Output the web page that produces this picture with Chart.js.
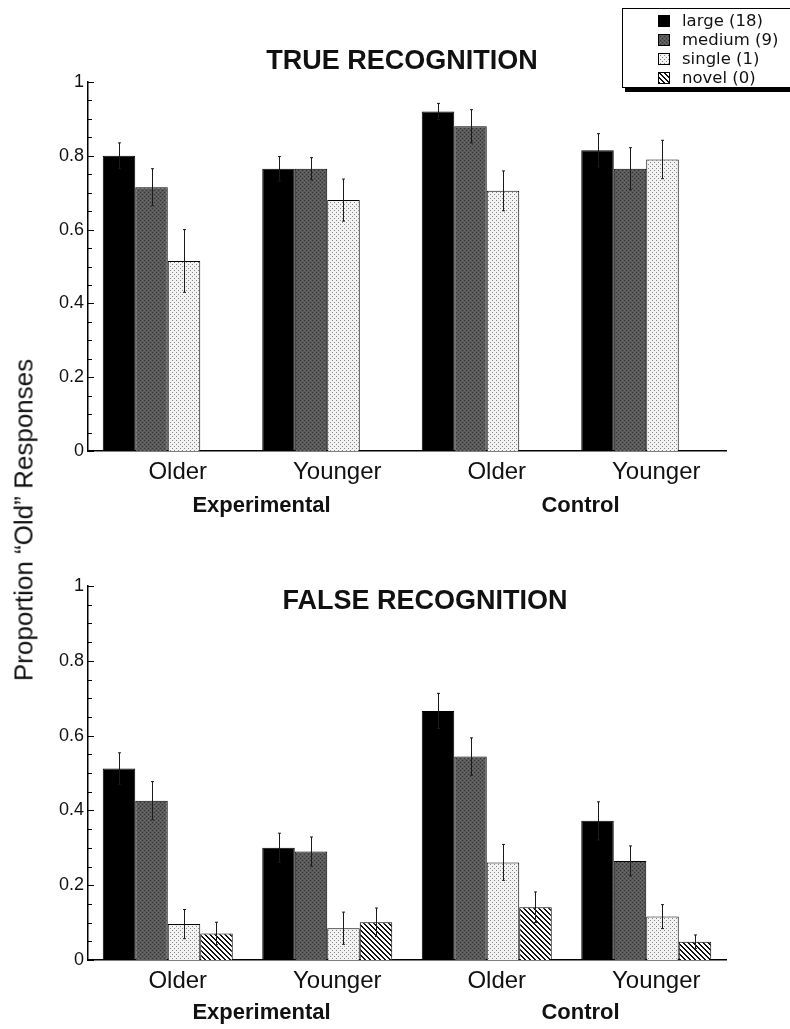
<!DOCTYPE html>
<html>
<head>
<meta charset="utf-8">
<script src="https://cdn.jsdelivr.net/npm/chart.js@4.4.0/dist/chart.umd.min.js"></script>
<style>
  html, body { margin: 0; padding: 0; background: #fff; }
  body { width: 790px; height: 1029px; position: relative; overflow: hidden;
         font-family: 'Liberation Sans', Arial, Helvetica, sans-serif; }
  canvas.panel { position: absolute; left: 0; }
  #topChart { top: 0; }
  #bottomChart { top: 530px; }
  #yTitle { position: absolute; left: 24px; top: 520px; transform: translate(-50%, -50%) rotate(-90deg);
            white-space: nowrap; font-size: 26px; color: #111; }
  #legend { position: absolute; left: 622px; top: 8px; width: 220px; height: 76px; padding-top: 2px;
            border: 1px solid #000; box-shadow: 3px 4px 0 #000; background: #fff;
            font-family: 'DejaVu Sans', Verdana, sans-serif; font-size: 16.5px; color: #111; }
  .row { height: 19px; display: flex; align-items: center; padding-left: 35px; }
  .row canvas { width: 12px; height: 12px; margin-right: 12px; }
</style>
</head>
<body>
<canvas id="topChart" class="panel" width="790" height="530"></canvas>
<canvas id="bottomChart" class="panel" width="790" height="499"></canvas>
<div id="yTitle">Proportion “Old” Responses</div>
<div id="legend"></div>

<script>
// categories and group labels
const categories = ['Older', 'Younger', 'Older', 'Younger'];
const groupLabels = ['Experimental', 'Control'];
const seriesNames = ['large (18)', 'medium (9)', 'single (1)', 'novel (0)'];

// TRUE RECOGNITION (no novel items)
const trueLarge = [0.80, 0.765, 0.92, 0.815];
const trueMedium = [0.715, 0.765, 0.88, 0.765];
const trueSingle = [0.515, 0.68, 0.705, 0.79];
const trueNovel = [null, null, null, null];
const trueLargeErr = [0.035, 0.033, 0.022, 0.045];
const trueMediumErr = [0.05, 0.03, 0.045, 0.057];
const trueSingleErr = [0.085, 0.057, 0.054, 0.052];
const trueNovelErr = [0, 0, 0, 0];

// FALSE RECOGNITION
const falseLarge = [0.512, 0.30, 0.666, 0.372];
const falseMedium = [0.426, 0.29, 0.544, 0.265];
const falseSingle = [0.096, 0.085, 0.261, 0.116];
const falseNovel = [0.071, 0.101, 0.141, 0.049];
const falseLargeErr = [0.042, 0.039, 0.047, 0.051];
const falseMediumErr = [0.051, 0.039, 0.05, 0.04];
const falseSingleErr = [0.039, 0.043, 0.048, 0.032];
const falseNovelErr = [0.03, 0.038, 0.041, 0.018];

const FONT = "'Liberation Sans', Arial, Helvetica, sans-serif";

// Fill patterns for the bars
function makePattern(size, draw) {
    const c = document.createElement('canvas');
    c.width = c.height = size;
    const g = c.getContext('2d');
    draw(g, size);
    return g.createPattern(c, 'repeat');
}

const fills = [
    '#000',
    makePattern(4, (g) => {
        g.fillStyle = '#5a5a5a'; g.fillRect(0, 0, 4, 4);
        g.fillStyle = '#333'; g.fillRect(0, 0, 1, 1); g.fillRect(2, 2, 1, 1);
        g.fillStyle = '#6e6e6e'; g.fillRect(2, 0, 1, 1); g.fillRect(0, 2, 1, 1);
    }),
    makePattern(4, (g) => {
        g.fillStyle = '#f3f3f3'; g.fillRect(0, 0, 4, 4);
        g.fillStyle = '#858585'; g.fillRect(0, 0, 1, 1); g.fillRect(2, 2, 1, 1);
    }),
    makePattern(5, (g) => {
        g.fillStyle = '#fff'; g.fillRect(0, 0, 5, 5);
        g.fillStyle = '#111';
        for (let i = 0; i < 5; i++) { g.fillRect(i, i, 1, 1); g.fillRect((i + 1) % 5, i, 1, 1); }
    })
];

// Error bars drawn from each dataset's "errors" array
const errorBars = {
    id: 'errorBars',
    afterDatasetsDraw(chart) {
        const ctx = chart.ctx;
        const yScale = chart.scales.y;
        ctx.save();
        ctx.strokeStyle = '#1a1a1a';
        ctx.lineWidth = 1;
        chart.data.datasets.forEach((ds, i) => {
            const meta = chart.getDatasetMeta(i);
            meta.data.forEach((bar, j) => {
                const v = ds.data[j];
                const e = ds.errors[j];
                if (v === null || !e) return;
                const x = Math.round(bar.x) + 0.5;
                const yTop = yScale.getPixelForValue(v + e);
                const yBot = yScale.getPixelForValue(v - e);
                ctx.beginPath();
                ctx.moveTo(x, yTop); ctx.lineTo(x, yBot);
                ctx.moveTo(x - 1.5, yTop); ctx.lineTo(x + 1.5, yTop);
                ctx.moveTo(x - 1.5, yBot); ctx.lineTo(x + 1.5, yBot);
                ctx.stroke();
            });
        });
        ctx.restore();
    }
};

// Inward tick marks on the y axis (major every 0.2, minor every 0.05)
const yInnerTicks = {
    id: 'yInnerTicks',
    afterDraw(chart) {
        const ctx = chart.ctx;
        const y = chart.scales.y;
        const x0 = chart.chartArea.left;
        ctx.save();
        ctx.strokeStyle = '#000';
        ctx.lineWidth = 1;
        for (let k = 0; k <= 20; k++) {
            const py = Math.round(y.getPixelForValue(k * 0.05)) + 0.5;
            const len = k % 4 === 0 ? 6 : 4;
            ctx.beginPath();
            ctx.moveTo(x0, py); ctx.lineTo(x0 + len, py);
            ctx.stroke();
        }
        ctx.restore();
    }
};

const panelTitle = {
    id: 'panelTitle',
    afterDraw(chart, args, opts) {
        const ctx = chart.ctx;
        ctx.save();
        ctx.font = 'bold 27px ' + FONT;
        ctx.fillStyle = '#111';
        ctx.textAlign = 'center';
        ctx.textBaseline = 'middle';
        ctx.fillText(opts.text, opts.x, opts.y);
        ctx.restore();
    }
};

function buildDatasets(values, errors) {
    return values.map((data, i) => ({
        label: seriesNames[i],
        data: data,
        errors: errors[i],
        backgroundColor: fills[i],
        borderColor: '#000',
        borderWidth: 1,
        barPercentage: 1,
        categoryPercentage: 0.815
    }));
}

function buildOptions(title, titleX, titleY, padTop, groupHeight, groupPad) {
    return {
        responsive: false,
        animation: false,
        layout: { padding: { left: 48, right: 64, top: padTop, bottom: 0 } },
        plugins: {
            legend: { display: false },
            tooltip: { enabled: false },
            panelTitle: { text: title, x: titleX, y: titleY }
        },
        scales: {
            x: {
                type: 'category',
                weight: 0,
                grid: { display: false, drawTicks: false },
                border: { display: true, color: '#000', width: 1.5 },
                ticks: { font: { family: FONT, size: 24 }, color: '#111', padding: 7,
                         labelOffset: 10, maxRotation: 0, autoSkip: false },
                afterFit(s) { s.height = 38; }
            },
            x2: {
                type: 'category',
                labels: groupLabels,
                offset: true,
                position: 'bottom',
                weight: 1,
                grid: { display: false, drawTicks: false },
                border: { display: false },
                ticks: { font: { family: FONT, size: 22, weight: 'bold' }, color: '#111',
                         padding: groupPad, labelOffset: 14, maxRotation: 0 },
                afterFit(s) { s.height = groupHeight; }
            },
            y: {
                min: 0,
                max: 1,
                grid: { display: false, drawTicks: false },
                border: { display: true, color: '#000', width: 1.5 },
                ticks: { stepSize: 0.2, font: { family: FONT, size: 18 }, color: '#111', padding: 4,
                         callback: (v) => String(Number(v.toFixed(2))) },
                afterFit(s) { s.width = 40; }
            }
        }
    };
}

new Chart(document.getElementById('topChart'), {
    type: 'bar',
    data: {
        labels: categories,
        datasets: buildDatasets(
            [trueLarge, trueMedium, trueSingle, trueNovel],
            [trueLargeErr, trueMediumErr, trueSingleErr, trueNovelErr])
    },
    options: buildOptions('TRUE RECOGNITION', 402, 62, 82, 41, 4),
    plugins: [errorBars, yInnerTicks, panelTitle]
});

new Chart(document.getElementById('bottomChart'), {
    type: 'bar',
    data: {
        labels: categories,
        datasets: buildDatasets(
            [falseLarge, falseMedium, falseSingle, falseNovel],
            [falseLargeErr, falseMediumErr, falseSingleErr, falseNovelErr])
    },
    options: buildOptions('FALSE RECOGNITION', 425, 72, 56, 31, 2),
    plugins: [errorBars, yInnerTicks, panelTitle]
});

// Legend box
const legend = document.getElementById('legend');
seriesNames.forEach((name, i) => {
    const row = document.createElement('div');
    row.className = 'row';
    const sw = document.createElement('canvas');
    sw.width = 12; sw.height = 12;
    const g = sw.getContext('2d');
    g.fillStyle = fills[i];
    g.fillRect(0, 0, 12, 12);
    g.strokeStyle = '#000';
    g.strokeRect(0.5, 0.5, 11, 11);
    const label = document.createElement('span');
    label.textContent = name;
    row.appendChild(sw);
    row.appendChild(label);
    legend.appendChild(row);
});
</script>
</body>
</html>
